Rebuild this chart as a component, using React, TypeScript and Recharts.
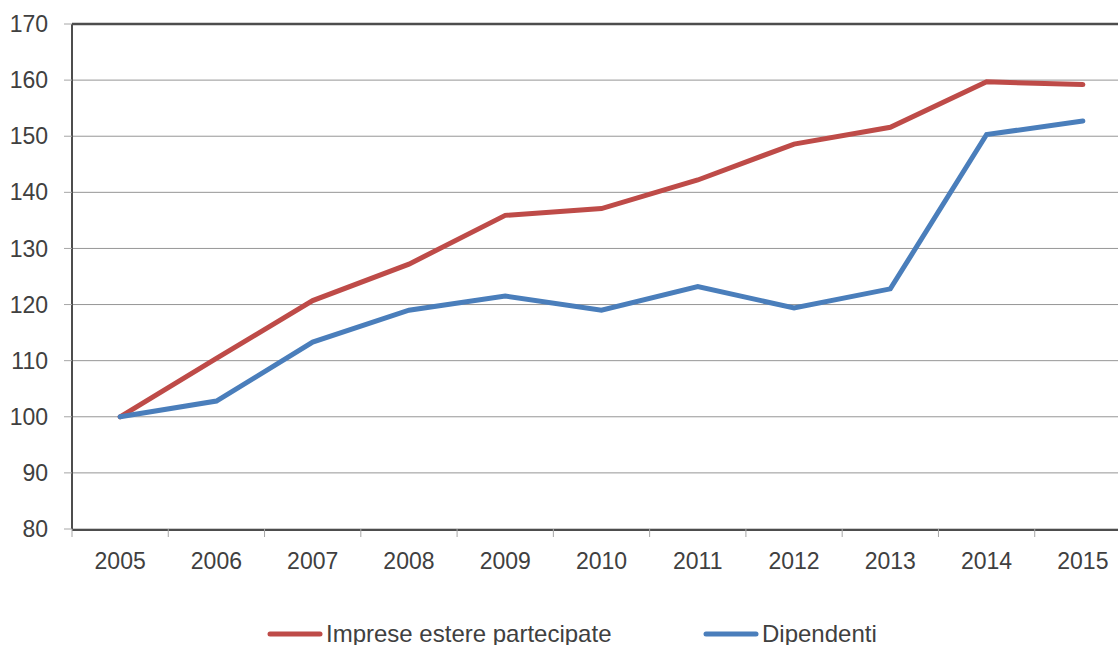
import React from 'react';
import {
  ComposedChart,
  Line,
  XAxis,
  YAxis,
  CartesianGrid,
  ReferenceLine,
  Legend,
} from 'recharts';

const years = ['2005', '2006', '2007', '2008', '2009', '2010', '2011', '2012', '2013', '2014', '2015'];
const imprese = [100, 110.4, 120.7, 127.2, 135.9, 137.1, 142.2, 148.6, 151.6, 159.7, 159.2];
const dipendenti = [100, 102.8, 113.3, 119.0, 121.5, 119.0, 123.2, 119.4, 122.8, 150.3, 152.7];
const yTicks = [80, 90, 100, 110, 120, 130, 140, 150, 160, 170];
const boundaryTicks = [0, 1, 2, 3, 4, 5, 6, 7, 8, 9, 10, 11];

const seriesNames = { imprese: 'Imprese estere partecipate', dipendenti: 'Dipendenti' };
const RED = '#BE4B48';
const BLUE = '#4A7EBB';
const TEXT = '#404040';
const AXIS = '#4d4d4d';
const GRID = '#969696';
const FONT = '"Liberation Sans", Arial, Helvetica, sans-serif';

const data = years.map((y, i) => ({
  year: y,
  pos: i + 0.5,
  imprese: imprese[i],
  dipendenti: dipendenti[i],
}));

const LegendContent = () => {
  const item = (color: string, label: string, left: number) => (
    <div
      style={{
        position: 'absolute',
        left,
        top: 0,
        display: 'flex',
        alignItems: 'center',
        height: 24,
        lineHeight: '24px',
        whiteSpace: 'nowrap',
      }}
    >
      <svg width={56} height={8} style={{ marginRight: 3 }}>
        <line x1={3} y1={4} x2={53} y2={4} stroke={color} strokeWidth={5} strokeLinecap="round" />
      </svg>
      <span style={{ fontFamily: FONT, fontSize: 24, color: TEXT }}>{label}</span>
    </div>
  );
  return (
    <div style={{ position: 'relative', width: 700, height: 24 }}>
      {item(RED, seriesNames.imprese, 0)}
      {item(BLUE, seriesNames.dipendenti, 436)}
    </div>
  );
};

export default function App() {
  return (
    <div
      style={{
        position: 'absolute',
        left: 0,
        top: 0,
        width: 1118,
        height: 645,
        overflow: 'hidden',
        background: '#fff',
      }}
    >
      <ComposedChart
        width={1140}
        height={645}
        data={data}
        margin={{ top: 24, right: 9, bottom: 65, left: 0 }}
      >
        <CartesianGrid xAxisId="cat" vertical={false} stroke={GRID} strokeWidth={1} />
        <XAxis
          xAxisId="cat"
          dataKey="year"
          type="category"
          scale="band"
          height={50}
          axisLine={{ stroke: AXIS, strokeWidth: 2 }}
          tickLine={false}
          tickSize={8}
          tickMargin={15}
          interval={0}
          tick={{ fill: TEXT, fontSize: 23, fontFamily: FONT }}
        />
        <XAxis
          xAxisId="aTicks"
          dataKey="pos"
          type="number"
          domain={[0, 11]}
          allowDataOverflow
          ticks={boundaryTicks}
          interval={0}
          height={1}
          axisLine={false}
          tick={{ fontSize: 1, fill: 'transparent' }}
          tickFormatter={() => ''}
          tickLine={{ stroke: '#a6a6a6', strokeWidth: 1 }}
          tickSize={8}
        />
        <YAxis
          domain={[80, 170]}
          ticks={yTicks}
          width={72}
          interval={0}
          axisLine={{ stroke: AXIS, strokeWidth: 2 }}
          tickLine={{ stroke: '#a6a6a6', strokeWidth: 1 }}
          tickSize={8}
          tickMargin={16}
          tick={{ fill: TEXT, fontSize: 23, fontFamily: FONT }}
        />
        <ReferenceLine xAxisId="cat" y={170} stroke={AXIS} strokeWidth={2.5} />
        <Legend
          layout="horizontal"
          verticalAlign="middle"
          align="center"
          content={<LegendContent />}
          wrapperStyle={{ left: 267, top: 622, width: 700, height: 24 }}
        />
        <Line
          xAxisId="cat"
          type="linear"
          dataKey="imprese"
          name={seriesNames.imprese}
          stroke={RED}
          strokeWidth={5}
          strokeLinecap="round"
          dot={false}
          activeDot={false}
          isAnimationActive={false}
        />
        <Line
          xAxisId="cat"
          type="linear"
          dataKey="dipendenti"
          name={seriesNames.dipendenti}
          stroke={BLUE}
          strokeWidth={5}
          strokeLinecap="round"
          dot={false}
          activeDot={false}
          isAnimationActive={false}
        />
      </ComposedChart>
    </div>
  );
}
